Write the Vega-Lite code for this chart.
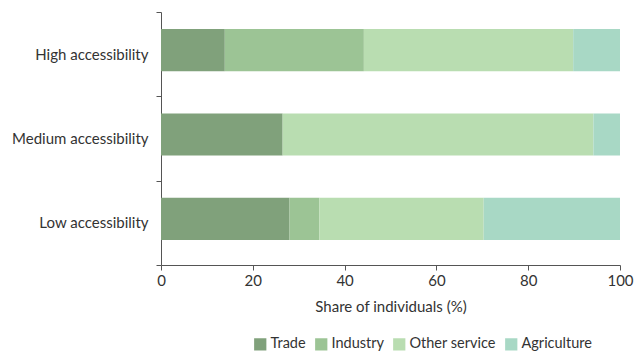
{
  "$schema": "https://vega.github.io/schema/vega-lite/v6.json",
  "width": 459,
  "height": 253,
  "autosize": {"type": "none"},
  "padding": {"left": 161, "top": 12, "right": 20, "bottom": 90},
  "background": "white",
  "config": {
    "view": {"stroke": null},
    "font": "Lato",
    "axis": {"labelFont": "Lato", "titleFont": "Lato", "labelColor": "#333", "titleColor": "#333", "domainColor": "#555", "tickColor": "#555", "grid": false},
    "legend": {"labelFont": "Lato", "labelColor": "#333"}
  },
  "data": {
    "values": [
      {"group": "High accessibility", "sector": "Trade", "value": 13.9},
      {"group": "High accessibility", "sector": "Industry", "value": 30.3},
      {"group": "High accessibility", "sector": "Other service", "value": 45.6},
      {"group": "High accessibility", "sector": "Agriculture", "value": 10.2},
      {"group": "Medium accessibility", "sector": "Trade", "value": 26.5},
      {"group": "Medium accessibility", "sector": "Industry", "value": 0},
      {"group": "Medium accessibility", "sector": "Other service", "value": 67.7},
      {"group": "Medium accessibility", "sector": "Agriculture", "value": 5.8},
      {"group": "Low accessibility", "sector": "Trade", "value": 28.0},
      {"group": "Low accessibility", "sector": "Industry", "value": 6.5},
      {"group": "Low accessibility", "sector": "Other service", "value": 35.8},
      {"group": "Low accessibility", "sector": "Agriculture", "value": 29.7}
    ]
  },
  "transform": [
    {"calculate": "indexof(['Trade','Industry','Other service','Agriculture'], datum.sector)", "as": "ord"}
  ],
  "mark": {"type": "bar", "height": {"band": 0.5}, "yOffset": -4},
  "encoding": {
    "y": {
      "field": "group",
      "type": "nominal",
      "sort": ["High accessibility", "Medium accessibility", "Low accessibility"],
      "scale": {"paddingInner": 0, "paddingOuter": 0},
      "axis": {"title": null, "tickBand": "extent", "labelFontSize": 15, "labelPadding": 8, "tickSize": 5, "domainWidth": 1}
    },
    "x": {
      "field": "value",
      "type": "quantitative",
      "stack": "zero",
      "scale": {"domain": [0, 100], "nice": false},
      "axis": {"title": "Share of individuals (%)", "values": [0, 20, 40, 60, 80, 100], "labelFontSize": 15, "titleFontSize": 15, "titleFontWeight": "normal", "tickSize": 5, "labelPadding": 3, "titlePadding": 11, "labelFlush": false}
    },
    "color": {
      "field": "sector",
      "type": "nominal",
      "sort": ["Trade", "Industry", "Other service", "Agriculture"],
      "scale": {"domain": ["Trade", "Industry", "Other service", "Agriculture"], "range": ["#80a17b", "#9cc495", "#b9ddb1", "#a8d8c5"]},
      "legend": {"title": null, "orient": "none", "direction": "horizontal", "legendX": 92, "legendY": 325, "symbolType": "square", "symbolSize": 150, "symbolStrokeWidth": 0, "labelFontSize": 14.5, "columnPadding": 8, "labelOffset": 3}
    },
    "order": {"field": "ord", "type": "quantitative"}
  }
}
